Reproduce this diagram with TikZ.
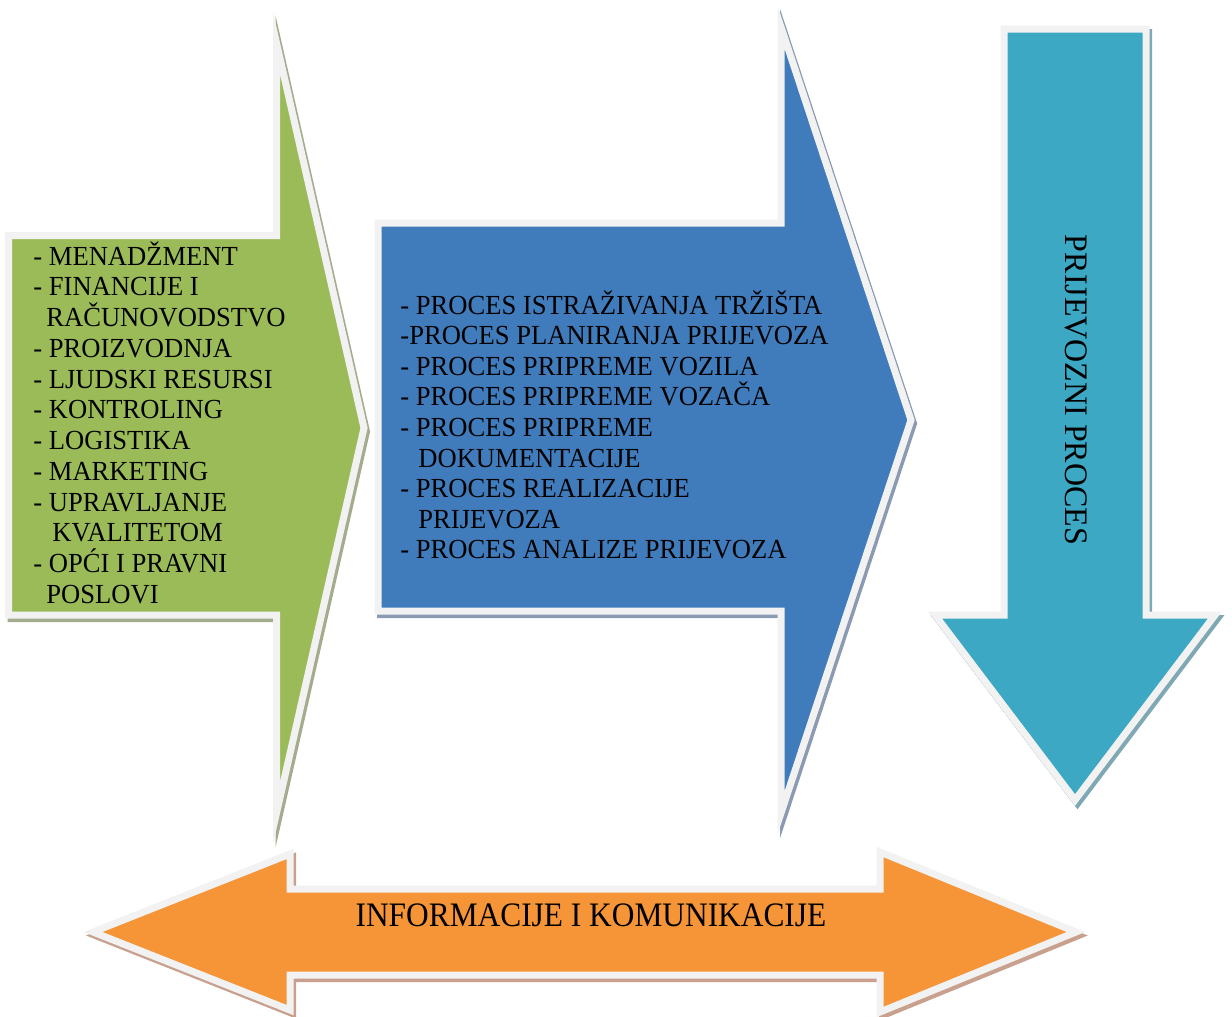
\documentclass[tikz,border=0pt]{standalone}
\usepackage{graphicx}
\usepackage{fontspec}
\setmainfont{Liberation Serif}
\definecolor{ggreen}{HTML}{9BBB59}
\definecolor{gblue}{HTML}{407CBC}
\definecolor{gteal}{HTML}{3DA8C4}
\definecolor{gorange}{HTML}{F69538}
\definecolor{rim}{HTML}{F2F2F2}
\definecolor{shgreen}{HTML}{A3AD8E}
\definecolor{shblue}{HTML}{8A9AB2}
\definecolor{shteal}{HTML}{7FA8B5}
\definecolor{shorange}{HTML}{C9A08E}
\newcommand\condensed[2]{\scalebox{#1}[1]{#2}}
\tikzset{
  arrowshape/.style={draw=rim, line width=3.5pt, line join=miter, miter limit=12},
  shadowshape/.style={draw=#1, fill=#1, line width=3.5pt, line join=miter, miter limit=12, shift={(2.5,3.5)}},
  listtext/.style={anchor=base west, inner sep=0pt, font=\fontsize{13.8pt}{16pt}\selectfont},
  bigtext/.style={inner sep=0pt, font=\fontsize{17.15pt}{20pt}\selectfont},
  sidetext/.style={inner sep=0pt, font=\fontsize{16.4pt}{19pt}\selectfont},
}
\def\greenpath{(8.5,235.5) -- (276.5,235.5) -- (276.5,43) -- (364,428) -- (276.5,813) -- (276.5,615) -- (8.5,615) -- cycle}
\def\bluepath{(378,223) -- (781,223) -- (781,27) -- (911,420) -- (781,813) -- (781,611) -- (378,611) -- cycle}
\def\tealpath{(1004,29) -- (1146,29) -- (1146,615) -- (1215,615) -- (1075,800) -- (935,615) -- (1004,615) -- cycle}
\def\orangepath{(93,932) -- (290,854) -- (290,889) -- (880,889) -- (880,852) -- (1076,932) -- (880,1012) -- (880,975) -- (290,975) -- (290,1010) -- cycle}
\begin{document}
\begin{tikzpicture}[x=0.5pt,y=-0.5pt]
\useasboundingbox (0,0) rectangle (1232,1017);
% shadows
\path[shadowshape=shgreen] \greenpath;
\path[shadowshape=shblue] \bluepath;
\path[shadowshape=shteal] \tealpath;
\path[shadowshape=shorange] \orangepath;
% arrows
\path[arrowshape, fill=ggreen] \greenpath;
\path[arrowshape, fill=gblue] \bluepath;
\path[arrowshape, fill=gteal] \tealpath;
\path[arrowshape, fill=gorange] \orangepath;
% green list
\foreach \x/\t [count=\i] in {33/- MENADŽMENT, 33/- FINANCIJE I, 46/RAČUNOVODSTVO, 33/- PROIZVODNJA, 33/- LJUDSKI RESURSI, 33/- KONTROLING, 33/- LOGISTIKA, 33/- MARKETING, 33/- UPRAVLJANJE, 52/KVALITETOM, 33/- OPĆI I PRAVNI, 46/POSLOVI}
  \node[listtext] (g\i) at (\x,{265+30.75*(\i-1)}) {\condensed{0.963}{\t}};
% blue list
\foreach \x/\t [count=\i] in {400/- PROCES ISTRAŽIVANJA TRŽIŠTA, 400/-PROCES PLANIRANJA PRIJEVOZA, 400/- PROCES PRIPREME VOZILA, 400/- PROCES PRIPREME VOZAČA, 400/- PROCES PRIPREME, 418/DOKUMENTACIJE, 400/- PROCES REALIZACIJE, 418/PRIJEVOZA, 400/- PROCES ANALIZE PRIJEVOZA}
  \node[listtext] (b\i) at (\x,{314+30.6*(\i-1)}) {\condensed{0.963}{\t}};
\node[bigtext, anchor=base] (info) at (591,926) {\condensed{0.915}{INFORMACIJE I KOMUNIKACIJE}};
\node[sidetext, rotate=-90] (proc) at (1076,390) {\condensed{0.975}{PRIJEVOZNI PROCES}};
\end{tikzpicture}
\end{document}
